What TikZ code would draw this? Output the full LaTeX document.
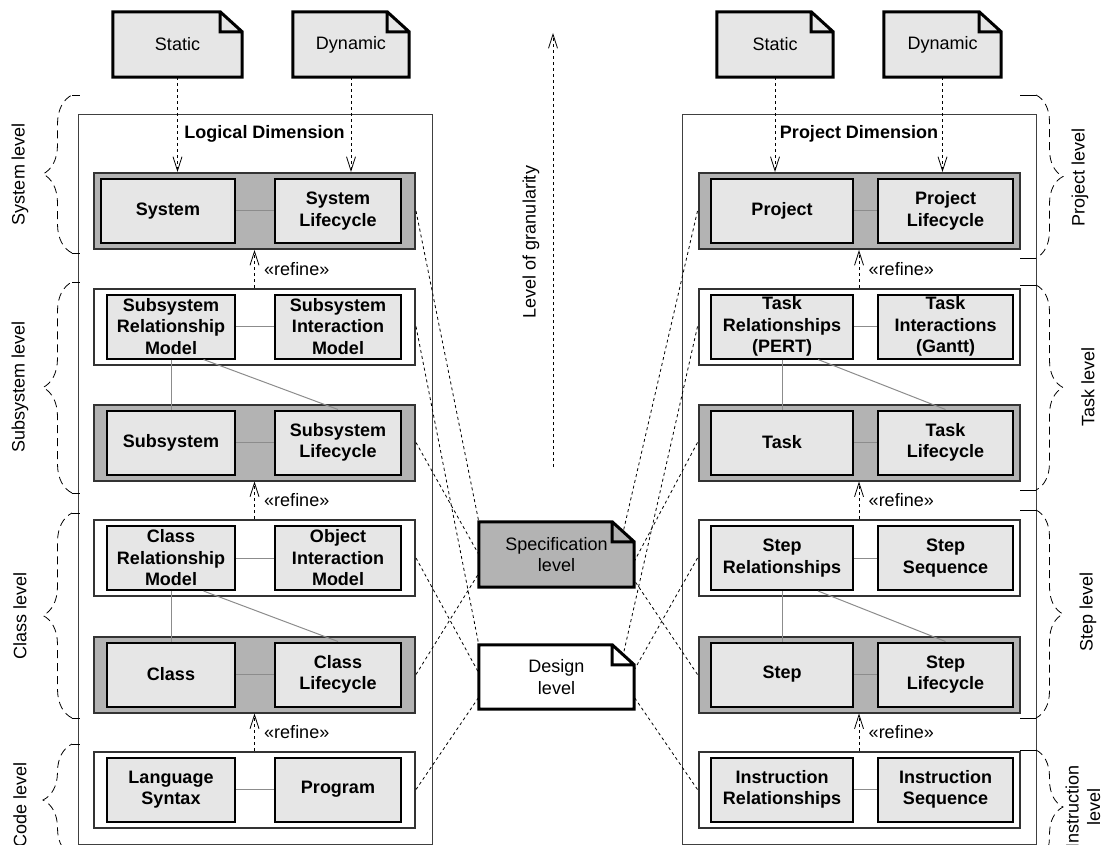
\documentclass[tikz,border=0pt]{standalone}
\usepackage{fontspec}
\setmainfont{Liberation Sans}
\usetikzlibrary{arrows.meta, positioning, calc, decorations.pathreplacing}
\definecolor{boxfill}{RGB}{230,230,230}
\definecolor{rowgray}{RGB}{179,179,179}
\definecolor{linkgray}{RGB}{140,140,140}

\begin{document}
\begin{tikzpicture}[x=1pt, y=-1pt, font=\fontsize{18}{21.5}\selectfont,
    frame/.style={draw=black!75, line width=1pt, minimum width=354pt, minimum height=729pt},
    specrow/.style={draw=black!80, fill=rowgray, line width=2pt, minimum width=321pt, minimum height=76pt},
    designrow/.style={specrow, fill=white},
    item/.style={draw, fill=boxfill, line width=2pt, align=center, inner sep=1pt, minimum height=64pt, minimum width=#1, font=\fontsize{18}{21.5}\selectfont\bfseries},
    note/.style={fill=#1, align=center, inner sep=1pt, minimum height=65pt},
    notepen/.style={line width=3pt},
    link/.style={draw=linkgray, line width=1pt},
    trace/.style={dash pattern=on 3pt off 3pt, line width=0.8pt},
    refine/.style={trace, -{Straight Barb[length=14pt, width=9pt]}},
    levelbrace/.style={dash pattern=on 8pt off 5pt, line width=0.8pt, decorate, decoration={brace, amplitude=#1}},
    levelbrace/.default=29pt,
    stub/.style={line width=0.8pt},
    levellabel/.style={rotate=90, align=center}]

  \useasboundingbox (0,0) rectangle (1108,845);
  \clip (0,0) rectangle (1108,845);

  % the two dimensions
  \node[frame] (lframe) at (255,479.5) {};
  \node[frame] (rframe) at (859,479.5) {};
  \node[font=\fontsize{18}{21.5}\selectfont\bfseries] (ltitle) at (264.5,134) {Logical Dimension};
  \node[font=\fontsize{18}{21.5}\selectfont\bfseries] (rtitle) at (859,134) {Project Dimension};

  \foreach \y/\kind [count=\i] in {211/specrow, 326.5/designrow, 442.5/specrow, 558/designrow, 674.5/specrow, 789.5/designrow} {
    \node[\kind] (lr\i) at (254.5,\y) {};
    \node[\kind] (rr\i) at (859,\y) {};
  }

  \node[item=134pt] (system) at (168,211) {System};
  \node[item=126pt] (syslc) at (338,211) {System\\Lifecycle};
  \node[item=128pt] (subrel) at (171,326.5) {Subsystem\\Relationship\\Model};
  \node[item=126pt] (subint) at (338,326.5) {Subsystem\\Interaction\\Model};
  \node[item=128pt] (subsys) at (171,442.5) {Subsystem};
  \node[item=126pt] (sublc) at (338,442.5) {Subsystem\\Lifecycle};
  \node[item=128pt] (classrel) at (171,558) {Class\\Relationship\\Model};
  \node[item=126pt] (objint) at (338,558) {Object\\Interaction\\Model};
  \node[item=128pt] (class) at (171,674.5) {Class};
  \node[item=126pt] (classlc) at (338,674.5) {Class\\Lifecycle};
  \node[item=128pt] (syntax) at (171,789.5) {Language\\Syntax};
  \node[item=126pt] (program) at (338,789.5) {Program};

  \node[item=142pt] (project) at (782,211) {Project};
  \node[item=135pt] (projlc) at (945.5,211) {Project\\Lifecycle};
  \node[item=142pt] (taskrel) at (782,326.5) {Task\\Relationships\\(PERT)};
  \node[item=135pt] (taskint) at (945.5,326.5) {Task\\Interactions\\(Gantt)};
  \node[item=142pt] (task) at (782,442.5) {Task};
  \node[item=135pt] (tasklc) at (945.5,442.5) {Task\\Lifecycle};
  \node[item=142pt] (steprel) at (782,558) {Step\\Relationships};
  \node[item=135pt] (stepseq) at (945.5,558) {Step\\Sequence};
  \node[item=142pt] (step) at (782,674.5) {Step};
  \node[item=135pt] (steplc) at (945.5,674.5) {Step\\Lifecycle};
  \node[item=142pt] (instrrel) at (782,789.5) {Instruction\\Relationships};
  \node[item=135pt] (instrseq) at (945.5,789.5) {Instruction\\Sequence};

  \foreach \a/\b in {system/syslc, subrel/subint, subsys/sublc, classrel/objint, class/classlc, syntax/program,
                     project/projlc, taskrel/taskint, task/tasklc, steprel/stepseq, step/steplc, instrrel/instrseq}
    \draw[link] (\a) -- (\b);
  \foreach \a/\b/\c in {subrel/subsys/sublc, classrel/class/classlc, taskrel/task/tasklc, steprel/step/steplc} {
    \draw[link] (\a) -- (\b);
    \draw[link] ($(\a.south)!0.5!(\a.south east)$) -- (\c.north);
  }

  \foreach \a/\b in {2/1, 4/3, 6/5} {
    \draw[refine] (lr\a.north) -- (lr\b.south) node[midway, right=6pt] (lref\b) {«refine»};
    \draw[refine] (rr\a.north) -- (rr\b.south) node[midway, right=6pt] (rref\b) {«refine»};
  }

  % notes
  \node[note=boxfill, minimum width=129pt] (lstat) at (177.5,44.5) {Static};
  \node[note=boxfill, minimum width=116pt] (ldyn) at (351,44.5) {Dynamic};
  \node[note=boxfill, minimum width=116pt] (rstat) at (775,44.5) {Static};
  \node[note=boxfill, minimum width=117pt] (rdyn) at (942.5,44.5) {Dynamic};
  \node[note=rowgray, minimum width=155pt] (spec) at (556.5,554.5) {Specification\\level};
  \node[note=white, minimum width=155pt, minimum height=64pt] (design) at (556.5,677) {Design\\level};
  \foreach \nm in {lstat, ldyn, rstat, rdyn, spec, design} {
    \fill[white] ([xshift=-22pt]\nm.north east) -- (\nm.north east) -- ([yshift=-20pt]\nm.north east) -- cycle;
    \draw[notepen] (\nm.south west) -- (\nm.north west) -- ([xshift=-22pt]\nm.north east) -- ([yshift=-20pt]\nm.north east) -- (\nm.south east) -- cycle
      ([xshift=-22pt]\nm.north east) |- ([yshift=-20pt]\nm.north east);
  }

  \draw[refine] (lstat.south) -- (lstat.south |- lr1.north);
  \draw[refine] (ldyn.south) -- (ldyn.south |- lr1.north);
  \draw[refine] (rstat.south) -- (rstat.south |- rr1.north);
  \draw[refine] (rdyn.south) -- (rdyn.south |- rr1.north);

  \draw[trace] (lr1.east) -- (spec.north west);
  \draw[trace] (lr2.east) -- (design.north west);
  \draw[trace] (lr3.east) -- (spec.west);
  \draw[trace] (lr4.east) -- ([yshift=4pt]design.west);
  \draw[trace] (lr5.east) -- ([yshift=14pt]spec.south west);
  \draw[trace] (lr6.east) -- ([yshift=12pt]design.south west);
  \draw[trace] (rr1.west) -- ([xshift=-11pt,yshift=-10pt]spec.north east);
  \draw[trace] (rr2.west) -- ([xshift=-11pt,yshift=-10pt]design.north east);
  \draw[trace] (rr3.west) -- ([yshift=-7pt]spec.east);
  \draw[trace] (rr4.west) -- ([yshift=7pt]design.east);
  \draw[trace] (rr5.west) -- ([yshift=7pt]spec.south east);
  \draw[trace] (rr6.west) -- ([yshift=12pt]design.south east);

  % granularity
  \coordinate (glow) at (553,467);
  \coordinate (ghigh) at (553,33);
  \draw[refine] (glow) -- (ghigh);
  \node[levellabel] (granularity) at (531,242) {Level of granularity};

  % levels
  \foreach \ya/\yb in {95/253, 282/493, 513/718, 744/856} {
    \draw[levelbrace] (72,\yb) -- (72,\ya);
    \draw[stub] (72,\ya) -- (80,\ya) (72,\yb) -- (80,\yb);
  }
  \foreach \ya/\yb in {95/258, 285/490, 510/718, 750/864} {
    \draw[levelbrace=27pt] (1036,\ya) -- (1036,\yb);
    \draw[stub] (1020,\ya) -- (1036,\ya) (1020,\yb) -- (1036,\yb);
  }
  \node[levellabel] (syslevel) at (20,174) {System level};
  \node[levellabel] (subsyslevel) at (20,387) {Subsystem level};
  \node[levellabel] (classlevel) at (20,616) {Class level};
  \node[levellabel] (codelevel) at (20,805) {Code level};
  \node[levellabel] (projlevel) at (1080,177) {Project level};
  \node[levellabel] (tasklevel) at (1088,387) {Task level};
  \node[levellabel] (steplevel) at (1088,612) {Step level};
  \node[levellabel] (instrlevel) at (1083,807) {Instruction\\level};
\end{tikzpicture}
\end{document}
